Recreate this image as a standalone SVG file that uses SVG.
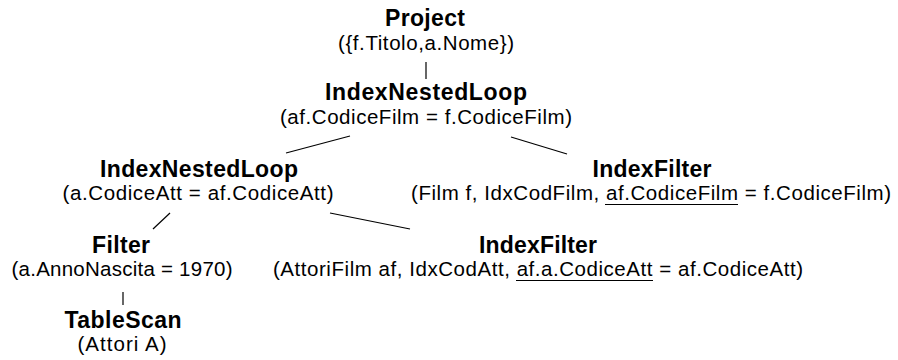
<svg xmlns="http://www.w3.org/2000/svg" width="898" height="360" viewBox="0 0 898 360">
<style>
.t{font-family:"Liberation Sans",Arial,sans-serif;font-weight:bold;font-size:23px;fill:#000;text-anchor:middle}
.s{font-family:"Liberation Sans",Arial,sans-serif;font-size:20.5px;fill:#000;text-anchor:middle}
.c line{stroke:#000;stroke-width:1.2}
.u{stroke:#000;stroke-width:1.2}
</style>
<rect width="898" height="360" fill="#fff"/>
<g class="c" id="connectors">
<line x1="426" y1="62" x2="426" y2="79"/>
<line x1="350" y1="136" x2="286" y2="153"/>
<line x1="511" y1="137" x2="567" y2="154"/>
<line x1="170" y1="213" x2="153" y2="229"/>
<line x1="330" y1="213" x2="410" y2="229"/>
<line x1="123" y1="292" x2="123" y2="305"/>
</g>
<g id="project">
<text class="t" x="425" y="26" textLength="80">Project</text>
<text class="s" x="426" y="50" textLength="176">({f.Titolo,a.Nome})</text>
</g>
<g id="inl-top">
<text class="t" x="426" y="100" textLength="202">IndexNestedLoop</text>
<text class="s" x="426" y="124" textLength="292">(af.CodiceFilm = f.CodiceFilm)</text>
</g>
<g id="indexfilter-film">
<text class="t" x="652" y="177" textLength="119">IndexFilter</text>
<text class="s" x="651" y="200" textLength="480">(Film f, IdxCodFilm, af.CodiceFilm = f.CodiceFilm)</text>
<line class="u" x1="605" y1="204.5" x2="738" y2="204.5"/>
</g>
<g id="inl-left">
<text class="t" x="199" y="177" textLength="198">IndexNestedLoop</text>
<text class="s" x="198" y="200" textLength="271">(a.CodiceAtt = af.CodiceAtt)</text>
</g>
<g id="filter">
<text class="t" x="121" y="253" textLength="58">Filter</text>
<text class="s" x="122" y="276" textLength="221">(a.AnnoNascita = 1970)</text>
</g>
<g id="indexfilter-attori">
<text class="t" x="538" y="253" textLength="118">IndexFilter</text>
<text class="s" x="538" y="276" textLength="530">(AttoriFilm af, IdxCodAtt, af.a.CodiceAtt = af.CodiceAtt)</text>
<line class="u" x1="516" y1="280.5" x2="653" y2="280.5"/>
</g>
<g id="tablescan">
<text class="t" x="123" y="328" textLength="117">TableScan</text>
<text class="s" x="122" y="351" textLength="89">(Attori A)</text>
</g>
</svg>
